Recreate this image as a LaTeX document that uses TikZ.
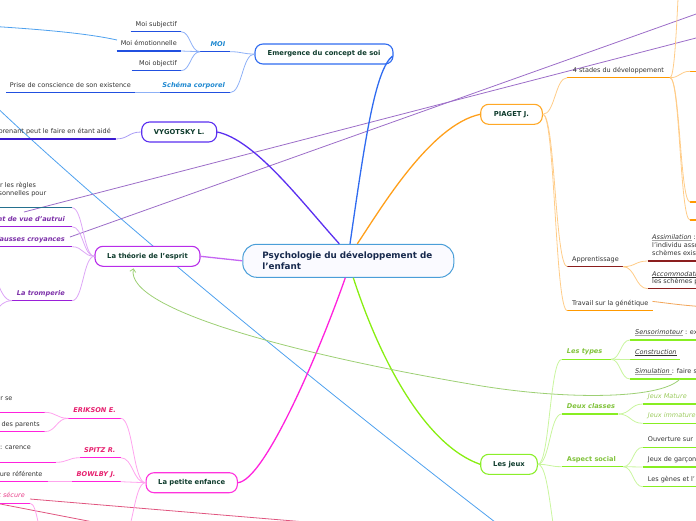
\documentclass[tikz,border=0pt]{standalone}
\usepackage{fontspec}
\setmainfont{DejaVu Sans}[BoldFont={DejaVu Sans Bold},ItalicFont={DejaVu Sans Oblique},BoldItalicFont={DejaVu Sans Bold Oblique}]
\usetikzlibrary{calc,arrows.meta}
\definecolor{emerBorder}{HTML}{2F6BF0}
\definecolor{emerUl}{HTML}{2150E0}
\definecolor{emerLbl}{HTML}{1E88D0}
\definecolor{emerSub}{HTML}{8DB0F7}
\definecolor{vygBorder}{HTML}{5A2FF0}
\definecolor{vygUl}{HTML}{3A1AD0}
\definecolor{vygSub}{HTML}{A99CF5}
\definecolor{piaBorder}{HTML}{FFA826}
\definecolor{piaMain}{HTML}{FF9F1A}
\definecolor{piaUl}{HTML}{FF9900}
\definecolor{piaRed}{HTML}{8B1E1E}
\definecolor{piaSub}{HTML}{FFCC88}
\definecolor{thBorder}{HTML}{B82DEA}
\definecolor{thMain}{HTML}{C566F2}
\definecolor{thUl}{HTML}{9A1FD9}
\definecolor{thTeal}{HTML}{24708E}
\definecolor{thLbl}{HTML}{7B2FA8}
\definecolor{thSub}{HTML}{DDA6F6}
\definecolor{peBorder}{HTML}{FF33DD}
\definecolor{peMain}{HTML}{FF22DD}
\definecolor{peUl}{HTML}{FF22DD}
\definecolor{peLbl}{HTML}{E6206E}
\definecolor{peSub}{HTML}{FFA3EE}
\definecolor{peText}{HTML}{E8408A}
\definecolor{jxBorder}{HTML}{8BEE2A}
\definecolor{jxMain}{HTML}{88EE11}
\definecolor{jxUl}{HTML}{88EE22}
\definecolor{jxLbl}{HTML}{80C23A}
\definecolor{jxSub}{HTML}{C9F59E}
\definecolor{jxText}{HTML}{9CCB5E}
\definecolor{relPurple}{HTML}{9C6DC8}
\definecolor{relBlue}{HTML}{4FA1EE}
\definecolor{relGreen}{HTML}{9DCF74}
\definecolor{relPink}{HTML}{E0557F}
\definecolor{relOrange}{HTML}{F2A65A}
\definecolor{topicText}{HTML}{0E3B2C}
\definecolor{centerText}{HTML}{17294D}
\definecolor{centerBorder}{HTML}{4A9ED8}
\definecolor{leafText}{HTML}{333333}
\newcommand\sconn[3]{\draw[#1] let \p1=(#2), \p2=(#3) in (\p1) .. controls ({(\x1+\x2)/2},\y1) and ({(\x1+\x2)/2},\y2) .. (\p2);}
\newcommand\gul[2][black!35]{\leavevmode\setbox0\hbox{#2}\rlap{\color{#1}\rule[-1.3pt]{\wd0}{0.8pt}}\box0}
\begin{document}
\begin{tikzpicture}[x=1pt,y=-1pt,
  topic/.style={draw, rounded corners=8pt, line width=1.1pt, fill=white, minimum height=20pt, inner sep=0pt, font=\fontsize{6.8}{8}\selectfont\bfseries, text=topicText},
  leaf/.style={inner sep=0pt, font=\fontsize{6.5}{8}\selectfont, text=leafText},
  lbl/.style={inner sep=0pt, font=\fontsize{6.6}{8}\selectfont\bfseries\itshape},
  ul/.style={line width=1.3pt},
  sub/.style={line width=0.8pt},
  main/.style={line width=1.3pt},
  rel/.style={line width=0.8pt}]
\useasboundingbox (0,0) rectangle (696,520);
\clip (0,0) rectangle (696,520);

% relationship lines (behind)
\draw[rel,relBlue] (-5,26.5) .. controls (50,30) and (90,34) .. (117,40);
\draw[rel,relBlue] (-10,101) .. controls (115,220) and (330,395) .. (495,522);
\draw[rel,relPurple] (24,212) -- (720,31.8);
\draw[rel,relPurple] (70,237) -- (720,5.5);
\draw[rel,relPink] (30,499) -- (330,524);
\draw[rel,relPink] (-10,502) -- (120,527.2);

% central
\node[draw=centerBorder, line width=1pt, fill=blue!2, rounded corners=14pt, minimum width=211pt, minimum height=33pt, inner sep=0pt, text width=172pt, align=left, font=\fontsize{8.8}{10.6}\selectfont\bfseries, text=centerText] (c) at (348.3,260.8) {Psychologie du développement de\\l'enfant};

% ---------------- Emergence
\node[topic,draw=emerBorder,minimum width=138pt] (emerg) at (324,54) {Emergence du concept de soi};
\draw[main,emerBorder] ($(c.north)+(1.7,0)$) .. controls (365,140) and (375,70) .. ($(emerg.east)+(-1,2)$);
\node[lbl,text=emerLbl,anchor=base east] (moi) at (225.5,46.3) {MOI};
\draw[ul,emerUl] (200,51.7) coordinate (moiL) -- (230,51.7) coordinate (moiR);
\node[lbl,text=emerLbl,anchor=base east] (schema) at (225,87.3) {Schéma corporel};
\draw[ul,emerUl] (160,92.7) coordinate (schL) -- (230,92.7) coordinate (schR);
\node[leaf,anchor=base east] (msub) at (177,26.3) {Moi subjectif};
\draw[ul,emerUl] (130.5,31.7) -- (181,31.7) coordinate (msubR);
\node[leaf,anchor=base east] (memo) at (177,45.6) {Moi émotionnelle};
\draw[ul,emerUl] (116.7,51) -- (181,51) coordinate (memoR);
\node[leaf,anchor=base east] (mobj) at (177,65.3) {Moi objectif};
\draw[ul,emerUl] (131.7,70.7) -- (181,70.7) coordinate (mobjR);
\node[leaf,anchor=base east] (prise) at (131,87.3) {Prise de conscience de son existence};
\draw[ul,emerUl] (6,92.7) -- (135,92.7) coordinate (priseR);
\sconn{sub,emerSub}{emerg.west}{moiR}
\sconn{sub,emerSub}{emerg.west}{schR}
\sconn{sub,emerSub}{moiL}{msubR}
\sconn{sub,emerSub}{moiL}{memoR}
\sconn{sub,emerSub}{moiL}{mobjR}
\draw[sub,emerSub] (schL) -- (priseR);

% ---------------- Vygotsky
\node[topic,draw=vygBorder,minimum width=75pt] (vyg) at (179.2,132) {VYGOTSKY L.};
\draw[main,vygBorder] (vyg.east) .. controls (255,140) and (300,200) .. ($(c.north)+(-9,0)$);
\node[leaf,anchor=base east] (zpd) at (111,133.6) {prenant peut le faire en étant aidé};
\draw[ul,vygUl] (-5,139) -- (115.7,139) coordinate (zpdR);
\sconn{sub,vygSub}{zpdR}{vyg.west}

% ---------------- Piaget
\node[topic,draw=piaBorder,minimum width=61.6pt] (piaget) at (511.5,114.3) {PIAGET J.};
\draw[main,piaMain] ($(c.north)+(9,0)$) .. controls (380,210) and (430,125) .. (piaget.west);
\node[leaf,anchor=base west] (stades) at (572.7,72.3) {4 stades du développement};
\draw[ul,piaUl] (567.3,77.7) coordinate (stL) -- (670,77.7) coordinate (stR);
\node[leaf,anchor=base west] (appr) at (572,261.3) {Apprentissage};
\draw[ul,piaRed] (567.3,266.7) coordinate (apL) -- (623,266.7) coordinate (apR);
\node[leaf,anchor=base west] (trav) at (572,305.3) {Travail sur la génétique};
\draw[ul,piaUl] (567.3,310.7) coordinate (trL) -- (652.7,310.7);
\sconn{sub,piaSub}{piaget.east}{stL}
\sconn{sub,piaSub}{piaget.east}{apL}
\sconn{sub,piaSub}{piaget.east}{trL}
\coordinate (stUp) at (686,-80);
\draw[ul,piaUl] (690,71.3) coordinate (s1L) -- (700,71.3);
\draw[ul,piaUl] (690,202) coordinate (s2L) -- (700,202);
\draw[ul,piaUl] (690,220) coordinate (s3L) -- (700,220);
\sconn{sub,piaSub}{stR}{stUp}
\sconn{sub,piaSub}{stR}{s1L}
\sconn{sub,piaSub}{stR}{s2L}
\sconn{sub,piaSub}{stR}{s3L}
\node[leaf,anchor=base west] (as1) at (652,239.6) {\itshape\gul{Assimilation}\upshape{} :};
\node[leaf,anchor=base west] (as2) at (652,247.6) {l'individu asso};
\node[leaf,anchor=base west] (as3) at (652,255.6) {schèmes exis};
\draw[ul,piaRed] (647.7,261) coordinate (asL) -- (700,261);
\node[leaf,anchor=base west] (ac1) at (652,276.3) {\itshape\gul[leafText]{Accommodation}};
\node[leaf,anchor=base west] (ac2) at (652,283.6) {les schèmes p};
\draw[ul,piaRed] (647.7,288.7) coordinate (acL) -- (700,288.7);
\sconn{sub,piaSub}{apR}{asL}
\sconn{sub,piaSub}{apR}{acL}
\draw[rel,relOrange] (trav.east) ++(4,-2) .. controls (670,303.5) and (680,305) .. (700,306.5);

% ---------------- Theorie de l'esprit
\node[topic,draw=thBorder,minimum width=105pt] (theory) at (147.5,256.3) {La théorie de l'esprit};
\draw[main,thMain] (c.west) -- (theory.east);
\node[leaf,anchor=base west] (reg1) at (0,187.5) {r les règles};
\node[leaf,anchor=base west] (reg2) at (-1.5,195.5) {sonnelles pour};
\draw[ul,thTeal] (-5,207.7) -- (72,207.7) coordinate (regR);
\node[lbl,text=thLbl,anchor=base east] (pdv) at (65,221.3) {Point de vue d'autrui};
\draw[ul,thUl] (-5,226.7) -- (72,226.7) coordinate (pdvR);
\node[lbl,text=thLbl,anchor=base east] (fc) at (65,241.3) {Fausses croyances};
\draw[ul,thUl] (-5,246.7) -- (72,246.7) coordinate (fcR);
\node[lbl,text=thLbl,anchor=base east] (tromp) at (65,295.3) {La tromperie};
\draw[ul,thUl] (12,300.7) coordinate (trompL) -- (72,300.7) coordinate (trompR);
\sconn{sub,thSub}{theory.west}{regR}
\sconn{sub,thSub}{theory.west}{pdvR}
\sconn{sub,thSub}{theory.west}{fcR}
\sconn{sub,thSub}{theory.west}{trompR}
\coordinate (tA) at (-20,255);
\coordinate (tB) at (-20,320);
\sconn{sub,thSub}{trompL}{tA}
\sconn{sub,thSub}{trompL}{tB}

% ---------------- Petite enfance
\node[topic,draw=peBorder,minimum width=91.3pt] (petite) at (191.7,482.7) {La petite enfance};
\draw[main,peMain] ($(c.south)+(-3,0)$) .. controls (320,350) and (265,480) .. (petite.east);
\node[lbl,text=peLbl,anchor=base east] (erik) at (116,412.9) {ERIKSON E.};
\draw[ul,peUl] (68.3,418.3) coordinate (erL) -- (120.7,418.3) coordinate (erR);
\node[leaf,anchor=base east] (er1) at (12.7,400.3) {r se};
\draw[ul,peUl] (-5,412.3) -- (44.5,412.3) coordinate (er1R);
\node[leaf,anchor=base east] (er2) at (40,426.3) {des parents};
\draw[ul,peUl] (-5,431.7) -- (44.5,431.7) coordinate (er2R);
\node[lbl,text=peLbl,anchor=base east] (spitz) at (115.7,452.3) {SPITZ R.};
\draw[ul,peUl] (80,457.7) coordinate (spL) -- (120.7,457.7) coordinate (spR);
\node[leaf,anchor=base east] (sp1) at (31,449) {g: carence};
\draw[ul,peUl] (-5,462.3) -- (56,462.3) coordinate (sp1R);
\node[lbl,text=peLbl,anchor=base east] (bowl) at (115.7,476.3) {BOWLBY J.};
\draw[ul,peUl] (72.3,481.7) coordinate (bwL) -- (120.7,481.7) coordinate (bwR);
\node[leaf,anchor=base east] (bw1) at (42.7,476.3) {ure référente};
\draw[ul,peUl] (-5,481.7) -- (47.7,481.7) coordinate (bw1R);
\node[leaf,anchor=base east,text=peText,font=\fontsize{6.5}{8}\selectfont\itshape] (secure) at (25,497.9) {t sécure};
\draw[ul,peUl] (-5,503.3) -- (30,503.3) coordinate (secR);
\coordinate (peDown) at (121,540);
\coordinate (secDown) at (46,540);
\sconn{sub,peSub}{petite.west}{erR}
\sconn{sub,peSub}{petite.west}{spR}
\sconn{sub,peSub}{petite.west}{bwR}
\sconn{sub,peSub}{petite.west}{peDown}
\sconn{sub,peSub}{erL}{er1R}
\sconn{sub,peSub}{erL}{er2R}
\sconn{sub,peSub}{spL}{sp1R}
\draw[sub,peSub] (bw1R) -- (bwL);
\sconn{sub,peSub}{secR}{secDown}

% ---------------- Les jeux
\node[topic,draw=jxBorder,minimum width=56.6pt] (jeux) at (509,464.3) {Les jeux};
\draw[main,jxMain] ($(c.south)+(5,0)$) .. controls (380,360) and (425,445) .. (jeux.west);
\node[lbl,text=jxLbl,anchor=base west] (types) at (566.7,353.9) {Les types};
\draw[ul,jxUl] (561.7,359.3) coordinate (tyL) -- (611,359.3) coordinate (tyR);
\node[lbl,text=jxLbl,anchor=base west] (classes) at (566.7,408.6) {Deux classes};
\draw[ul,jxUl] (561.7,414) coordinate (clL) -- (618.3,414) coordinate (clR);
\node[lbl,text=jxLbl,anchor=base west,font=\fontsize{6.6}{8}\selectfont\bfseries] (social) at (566.7,461.3) {Aspect social};
\draw[ul,jxUl] (561.7,466.7) coordinate (soL) -- (623.3,466.7) coordinate (soR);
\coordinate (jxDown) at (565,560);
\sconn{sub,jxSub}{jeux.east}{tyL}
\sconn{sub,jxSub}{jeux.east}{clL}
\sconn{sub,jxSub}{jeux.east}{soL}
\sconn{sub,jxSub}{jeux.east}{jxDown}
\node[leaf,anchor=base west] (sens) at (635,334.6) {\itshape\gul{Sensorimoteur}\upshape{} : ex};
\draw[ul,jxUl] (630,340) coordinate (seL) -- (700,340);
\node[leaf,anchor=base west] (constr) at (635,354.1) {\itshape\gul[leafText]{Construction}};
\draw[ul,jxUl] (630,359.5) coordinate (coL) -- (680,359.5);
\node[leaf,anchor=base west] (simu) at (635,373.6) {\itshape\gul{Simulation }\upshape{}: faire s};
\draw[ul,jxUl] (630,379) coordinate (siL) -- (700,379);
\sconn{sub,jxSub}{tyR}{seL}
\sconn{sub,jxSub}{tyR}{coL}
\sconn{sub,jxSub}{tyR}{siL}
\node[leaf,anchor=base west,text=jxText,font=\fontsize{6.5}{8}\selectfont\itshape] (mature) at (647.7,398.6) {Jeux Mature};
\draw[ul,jxUl] (642.7,404) coordinate (maL) -- (700,404);
\node[leaf,anchor=base west,text=jxText,font=\fontsize{6.5}{8}\selectfont\itshape] (immature) at (647.7,417.9) {Jeux immature};
\draw[ul,jxUl] (642.7,423.3) coordinate (imL) -- (700,423.3);
\sconn{sub,jxSub}{clR}{maL}
\sconn{sub,jxSub}{clR}{imL}
\node[leaf,anchor=base west] (ouv) at (647.7,441.9) {Ouverture sur};
\draw[ul,jxUl] (642.7,447.3) coordinate (ouL) -- (700,447.3);
\node[leaf,anchor=base west] (garc) at (647.7,461.6) {Jeux de garçon};
\draw[ul,jxUl] (642.7,467) coordinate (gaL) -- (700,467);
\node[leaf,anchor=base west] (genes) at (647.7,481.3) {Les gènes et l'};
\draw[ul,jxUl] (642.7,486.7) coordinate (geL) -- (700,486.7);
\sconn{sub,jxSub}{soR}{ouL}
\sconn{sub,jxSub}{soR}{gaL}
\sconn{sub,jxSub}{soR}{geL}

% green relationship arrow
\coordinate (simA) at (680,379);
\draw[rel,relGreen,-{Straight Barb[length=3pt,width=6pt]}] (simA) .. controls (660,400) and (560,400) .. (470,384) .. controls (300,355) and (125,310) .. ($(theory.south)+(-14,1.5)$);
\end{tikzpicture}
\end{document}
